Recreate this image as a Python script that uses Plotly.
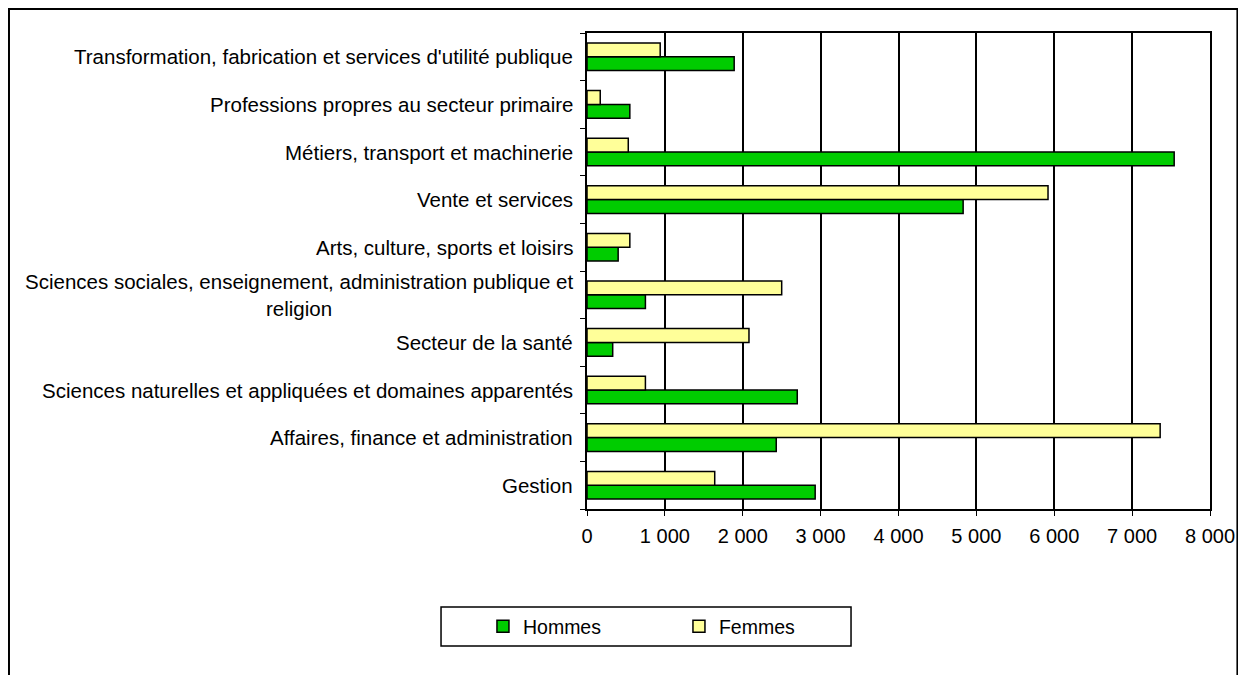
import plotly.graph_objects as go

# categories, bottom to top (as drawn)
categories = [
    "Gestion",
    "Affaires, finance et administration",
    "Sciences naturelles et appliquées et domaines apparentés",
    "Secteur de la santé",
    "Sciences sociales, enseignement, administration publique et<br>religion",
    "Arts, culture, sports et loisirs",
    "Vente et services",
    "Métiers, transport et machinerie",
    "Professions propres au secteur primaire",
    "Transformation, fabrication et services d'utilité publique",
]
hommes = [2930, 2430, 2700, 330, 750, 400, 4830, 7540, 550, 1890]
femmes = [1640, 7360, 750, 2080, 2500, 550, 5920, 530, 170, 940]
x_ticks = [0, 1000, 2000, 3000, 4000, 5000, 6000, 7000, 8000]

FONT = "Liberation Sans, Arial, sans-serif"

fig = go.Figure()
fig.add_trace(go.Bar(
    name="Hommes", y=categories, x=hommes, orientation="h",
    marker={"color": "#00CC00", "line": {"color": "black", "width": 1.5}},
))
fig.add_trace(go.Bar(
    name="Femmes", y=categories, x=femmes, orientation="h",
    marker={"color": "#FFFF99", "line": {"color": "black", "width": 1.5}},
))

# category labels as annotations so wrapped text is centred like the original
for cat in categories:
    fig.add_annotation(
        x=-0.0193, xref="paper", y=cat, yref="y",
        text=cat, showarrow=False, xanchor="right", align="center",
        font={"size": 20.5, "family": FONT, "color": "black"},
    )

# outer frame around the whole chart (bottom edge runs off the page)
fig.add_shape(
    type="rect", xref="paper", yref="paper",
    x0=-0.9278, x1=1.044, y0=-0.4, y1=1.0504,
    line={"color": "black", "width": 2},
)
# legend box
fig.add_shape(
    type="rect", xref="paper", yref="paper",
    x0=-0.2343, x1=0.4238, y0=-0.2878, y1=-0.2059,
    line={"color": "black", "width": 1.5},
)

fig.update_layout(
    width=1238, height=667,
    margin={"l": 579, "r": 36, "t": 25, "b": 166},
    paper_bgcolor="white", plot_bgcolor="white",
    font={"family": FONT, "size": 20, "color": "black"},
    separators=", ",
    barmode="group", bargap=0.42, bargroupgap=0,
    showlegend=True,
    legend={
        "orientation": "h", "x": -0.167, "xanchor": "left",
        "y": -0.2468, "yanchor": "middle",
        "borderwidth": 0, "bgcolor": "rgba(0,0,0,0)",
        "entrywidth": 151, "font": {"size": 19.5},
        "traceorder": "normal",
    },
    xaxis={
        "range": [0, 8000], "tickvals": x_ticks, "tickformat": ",d",
        "showgrid": True, "gridcolor": "black", "gridwidth": 1.5,
        "showline": True, "linecolor": "black", "linewidth": 1.5,
        "mirror": True, "ticks": "outside", "ticklen": 5,
        "tickcolor": "black", "zeroline": False,
        "tickfont": {"size": 20}, "ticklabelstandoff": 3,
    },
    yaxis={
        "showticklabels": False, "showline": True, "linecolor": "black",
        "linewidth": 1.5, "mirror": True, "ticks": "outside",
        "tickson": "boundaries", "ticklen": 5, "tickcolor": "black",
        "showgrid": False,
    },
)

fig.write_html("out.html")
